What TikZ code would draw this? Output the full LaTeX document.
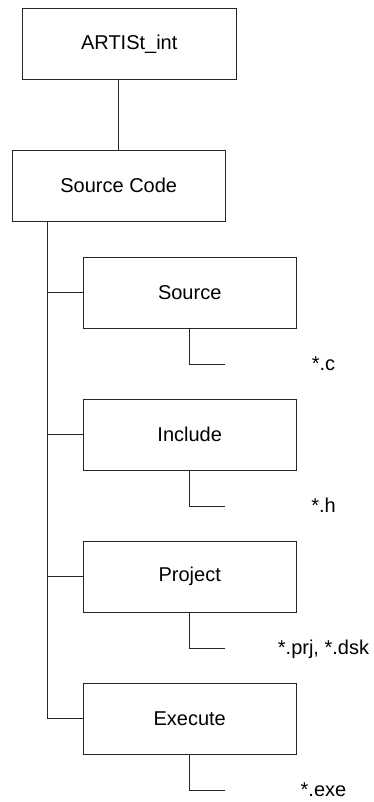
\documentclass[tikz,border=0pt]{standalone}
\usepackage{fontspec}
\setmainfont{Liberation Sans}
\usetikzlibrary{positioning}

\tikzset{
  dirbox/.style={draw=black!85, line width=0.9pt, minimum width=213.5pt, minimum height=71pt, inner sep=0pt, font=\fontsize{20}{24}\selectfont},
  link/.style={draw=black!85, line width=0.9pt},
  ext/.style={anchor=base, inner sep=0pt, font=\fontsize{20}{24}\selectfont}
}

\begin{document}
\begin{tikzpicture}[x=1pt,y=-1pt]

\useasboundingbox (0,0) rectangle (374,802);

% Top level boxes
\node[dirbox] (root) at (129.25,44.2) {ARTISt\_int};
\node[dirbox] (code) at (118.75,185.8) {Source Code};

% Sub folders
\node[dirbox] (src) at (189.7,292.7) {Source};
\node[dirbox] (inc) at (189.7,434.7) {Include};
\node[dirbox] (prj) at (189.7,576.7) {Project};
\node[dirbox] (exe) at (189.7,718.8) {Execute};

% Root to source code
\draw[link] (code.north) -- (code.north |- root.south);

% Main trunk and branches
\coordinate (trunk) at (47.7,221.3);
\draw[link] (trunk) -- (trunk |- exe.west) -- (exe.west);
\draw[link] (trunk |- src.west) -- (src.west);
\draw[link] (trunk |- inc.west) -- (inc.west);
\draw[link] (trunk |- prj.west) -- (prj.west);

% File types under each folder
\draw[link] (src.south) |- ++(35.6,35.5);
\draw[link] (inc.south) |- ++(35.6,35.5);
\draw[link] (prj.south) |- ++(35.6,35.5);
\draw[link] (exe.south) |- ++(35.6,35.5);

% Labels
\node[ext] (srcfiles) at (323.5,370.2) {*.c};
\node[ext] (incfiles) at (323.5,512.2) {*.h};
\node[ext] (prjfiles) at (323.5,654.2) {*.prj, *.dsk};
\node[ext] (exefiles) at (323.5,796.3) {*.exe};

\end{tikzpicture}
\end{document}
